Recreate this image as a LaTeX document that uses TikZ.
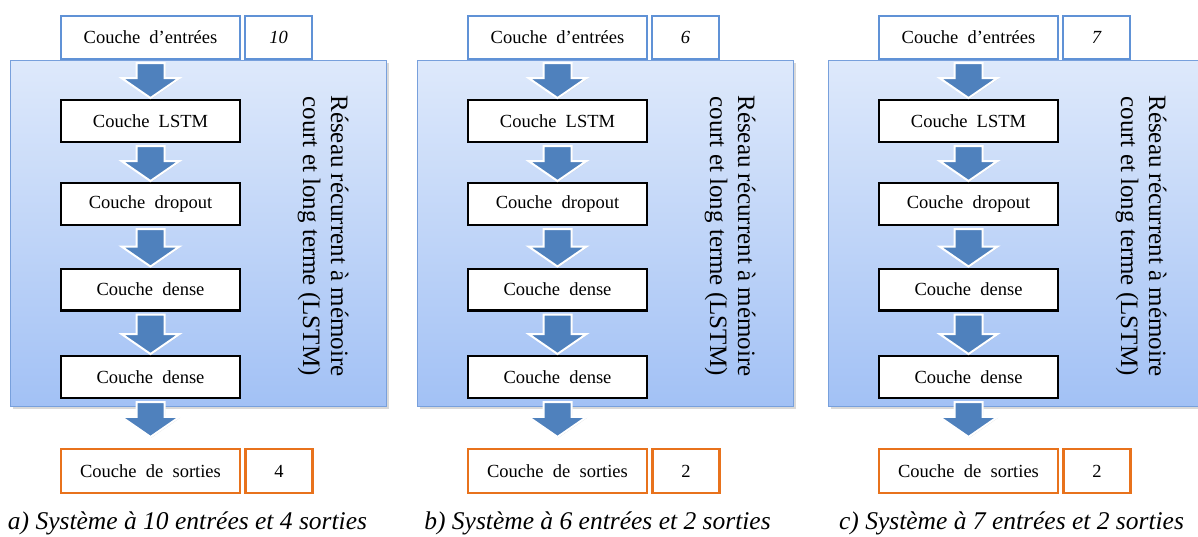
\documentclass[tikz,border=0pt]{standalone}
\usepackage{fontspec}
\setmainfont{Liberation Serif}
\usetikzlibrary{calc,shadows}

\definecolor{inblue}{RGB}{96,146,214}
\definecolor{arrblue}{RGB}{79,129,189}
\definecolor{outorange}{RGB}{232,114,28}
\definecolor{nettop}{RGB}{222,233,251}
\definecolor{netbot}{RGB}{162,193,245}
\definecolor{netedge}{RGB}{120,160,220}

\tikzset{
  boxfont/.style={font=\fontsize{18.5}{22}\selectfont},
  layer/.style={boxfont, draw=black, line width=2.4pt, fill=white,
    minimum width=178.6pt, minimum height=41.6pt, inner sep=0pt,
    drop shadow={shadow xshift=1.2pt, shadow yshift=-1.2pt, opacity=0.35}},
  inbox/.style={boxfont, draw=inblue, line width=2pt, fill=white,
    minimum height=43pt, inner sep=0pt},
  outbox/.style={boxfont, draw=outorange, line width=2.2pt, fill=white,
    minimum height=44pt, inner sep=0pt},
  net/.style={draw=netedge, line width=1pt, top color=nettop, bottom color=netbot,
    minimum width=376pt, minimum height=346pt, inner sep=0pt,
    drop shadow={shadow xshift=2.5pt, shadow yshift=-2.5pt, opacity=0.3}},
  arrstyle/.style={fill=arrblue, draw=white, line width=2pt, line join=miter,
    drop shadow={shadow xshift=0.8pt, shadow yshift=-0.8pt, opacity=0.3}},
  netlabel/.style={rotate=-90, align=center, font=\fontsize{25}{28}\selectfont},
  caption/.style={anchor=base, font=\itshape\fontsize{25.5}{30}\selectfont},
}

% block arrow from the bottom of #2 down to the top of #3, leaving a gap #1
\newcommand\blockarrow[3][1]{%
  \filldraw[arrstyle] let \p1=($(#2.south)+(0,3)$), \p2=($(#3.north)+(0,-#1)$) in
    (\x1-14pt,\y1) -- (\x1+14pt,\y1) -- (\x1+14pt,\y2+20pt) -- (\x1+29pt,\y2+20pt)
    -- (\x1,\y2) -- (\x1-29pt,\y2+20pt) -- (\x1-14pt,\y2+20pt) -- cycle;}

% one network: prefix, horizontal offset, inputs, outputs
\newcommand\panel[4]{%
  \begin{scope}[xshift=#2pt]
    \node[net] (#1net) at (198,233) {};
    \node[inbox, minimum width=179pt] (#1in) at (150.5,37.5) {Couche\ \ d’entrées};
    \node[inbox, minimum width=67pt] (#1inn) at (278.5,37.5) {\itshape #3};
    \node[layer] (#1lstm) at (150.5,121) {Couche\ \ LSTM};
    \node[layer] (#1drop) at (150.5,204) {Couche\ \ dropout};
    \node[layer] (#1dense) at (150.5,289.5) {Couche\ \ dense};
    \node[layer] (#1denseb) at (150.5,377) {Couche\ \ dense};
    \node[outbox, minimum width=179pt] (#1out) at (150.5,471) {Couche\ \ de\ \ sorties};
    \node[outbox, minimum width=67pt] (#1outn) at (279,471) {#4};
    \node[netlabel] (#1lbl) at (323,236) {Réseau récurrent à mémoire\\court et long terme (LSTM)};
    \blockarrow{#1in}{#1lstm}
    \blockarrow{#1lstm}{#1drop}
    \blockarrow{#1drop}{#1dense}
    \blockarrow{#1dense}{#1denseb}
    \blockarrow[11]{#1denseb}{#1out}
  \end{scope}}

\begin{document}
\begin{tikzpicture}[x=1pt, y=-1pt]
  \useasboundingbox (0,0) rectangle (1198,536);
  \clip (0,0) rectangle (1198,536);
  \panel{a}{0}{10}{4}
  \panel{b}{407}{6}{2}
  \panel{c}{818}{7}{2}
  \node[caption] (capa) at (187.5,529) {a) Système à 10 entrées et 4 sorties};
  \node[caption] (capb) at (597.5,529) {b) Système à 6 entrées et 2 sorties};
  \node[caption] (capc) at (1011.5,529) {c) Système à 7 entrées et 2 sorties};
\end{tikzpicture}
\end{document}
